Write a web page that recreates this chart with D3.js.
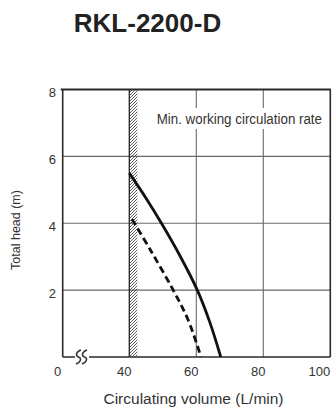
<!DOCTYPE html>
<html><head><meta charset="utf-8">
<script src="https://cdn.jsdelivr.net/npm/d3@7"></script>
<style>body{margin:0;background:#fff}svg{display:block}</style>
</head><body>
<script>
// ---- data ----
const title = "RKL-2200-D";
const xTicks = [0, 40, 60, 80, 100];
const yTicks = [2, 4, 6, 8];
const xGrid = [60, 80];
const yGrid = [2, 4, 6];
const minRate = [40, 42.4];          // hatched minimum circulation band (L/min)
const solidQ = [40, 45, 49.6, 55, 60.3, 64, 67.3];
const solidH = [5.5, 4.75, 4.0, 3.05, 2.0, 1.05, 0];
const dashQ  = [40.8, 46.3, 53.1, 57.6, 61.4];
const dashH  = [4.12, 3.2, 2.0, 1.1, 0];
const xLabel = "Circulating volume (L/min)";
const yLabel = "Total head (m)";
const noteLabel = "Min. working circulation rate";

const W = 332, H = 408;
const L = 62.7, R = 330.3, T = 89.5, B = 357;

const svg = d3.select("body").append("svg").attr("width", W).attr("height", H);

// broken axis: 0 -> 40 compressed
const x = d3.scaleLinear().domain([0, 40, 100]).range([L, 129.3, R]);
const y = d3.scaleLinear().domain([0, 8]).range([B, T]);

// hatch pattern
const defs = svg.append("defs");
const pat = defs.append("pattern").attr("id", "hatch").attr("patternUnits", "userSpaceOnUse")
  .attr("width", 3).attr("height", 3);
pat.append("path").attr("d", "M-1,1 l2,-2 M0,3 l3,-3 M2,4 l2,-2")
  .attr("stroke", "#333").attr("stroke-width", 0.8);

// gridlines
svg.append("g").selectAll("line").data(yGrid).join("line")
  .attr("x1", L).attr("x2", R).attr("y1", d => y(d)).attr("y2", d => y(d))
  .attr("stroke", "#6a6a6a").attr("stroke-width", 1.1);
svg.append("g").selectAll("line").data(xGrid).join("line")
  .attr("x1", d => x(d)).attr("x2", d => x(d)).attr("y1", T).attr("y2", B)
  .attr("stroke", "#6a6a6a").attr("stroke-width", 1.1);

// note label with white background
svg.append("rect").attr("x", 151).attr("y", 108).attr("width", 175).attr("height", 21).attr("fill", "#fff");
svg.append("text").attr("transform", "translate(322,123.5) scale(0.89,1)").attr("text-anchor", "end")
  .attr("font-family", "'Liberation Sans',Arial,sans-serif")
  .attr("font-size", 15).attr("fill", "#333")
  .text(noteLabel);

// hatched band
svg.append("rect").attr("x", x(minRate[0])).attr("y", T)
  .attr("width", x(minRate[1]) - x(minRate[0])).attr("height", B - T)
  .attr("fill", "url(#hatch)");
svg.append("line").attr("x1", x(minRate[0])).attr("x2", x(minRate[0])).attr("y1", T).attr("y2", B)
  .attr("stroke", "#222").attr("stroke-width", 1.3);

// frame
const frame = svg.append("g").attr("stroke", "#2a2a2a").attr("fill", "none");
frame.append("line").attr("x1", L - 2).attr("x2", R + 0.5).attr("y1", T).attr("y2", T).attr("stroke-width", 2.2);
frame.append("line").attr("x1", L).attr("x2", L).attr("y1", T).attr("y2", B).attr("stroke-width", 1.6);
frame.append("line").attr("x1", R).attr("x2", R).attr("y1", T).attr("y2", B).attr("stroke-width", 1.6);
frame.append("line").attr("x1", L).attr("x2", R).attr("y1", B).attr("y2", B).attr("stroke-width", 1.6);

// axis break symbol
const bx = 76;
svg.append("rect").attr("x", bx - 1).attr("y", B - 3).attr("width", 14).attr("height", 6).attr("fill", "#fff");
[bx + 2.5, bx + 8.5].forEach(cx => {
  svg.append("path")
    .attr("d", `M${cx + 2.5},${B - 7} C${cx - 3},${B - 5} ${cx - 3},${B - 1} ${cx},${B} C${cx + 3},${B + 1} ${cx + 3},${B + 5} ${cx - 2.5},${B + 7}`)
    .attr("fill", "none").attr("stroke", "#333").attr("stroke-width", 1.5);
});

// curves
const line = d3.line().x(d => x(d[0])).y(d => y(d[1])).curve(d3.curveCatmullRom.alpha(0.5));
svg.append("path").datum(solidQ.map((q, i) => [q, solidH[i]]))
  .attr("d", line).attr("fill", "none").attr("stroke", "#111").attr("stroke-width", 2.8);
svg.append("path").datum(dashQ.map((q, i) => [q, dashH[i]]))
  .attr("d", line).attr("fill", "none").attr("stroke", "#111").attr("stroke-width", 2.8)
  .attr("stroke-dasharray", "7,4");

// tick labels
const font = "'Liberation Sans',Arial,Helvetica,sans-serif";
svg.append("g").selectAll("text").data(xTicks).join("text")
  .attr("x", d => d === 100 ? x(d) : x(d) - 5).attr("y", 376)
  .attr("text-anchor", d => d === 100 ? "end" : "middle")
  .attr("font-family", font).attr("font-size", 13).attr("fill", "#333")
  .text(d => d);
svg.append("g").selectAll("text").data(yTicks).join("text")
  .attr("x", 56).attr("y", d => y(d) + 7.5).attr("text-anchor", "end")
  .attr("font-family", font).attr("font-size", 13).attr("fill", "#333")
  .text(d => d);

// axis titles
svg.append("text").attr("x", 193.5).attr("y", 404).attr("text-anchor", "middle")
  .attr("font-family", font).attr("font-size", 15.5).attr("fill", "#333").text(xLabel);
svg.append("text").attr("transform", "translate(19.5,230) rotate(-90)").attr("text-anchor", "middle")
  .attr("font-family", font).attr("font-size", 12.5).attr("fill", "#333").text(yLabel);

// chart title
svg.append("text").attr("x", 147.5).attr("y", 32).attr("text-anchor", "middle")
  .attr("font-family", font).attr("font-weight", "bold").attr("font-size", 26).attr("fill", "#222")
  .text(title);
</script>
</body></html>
